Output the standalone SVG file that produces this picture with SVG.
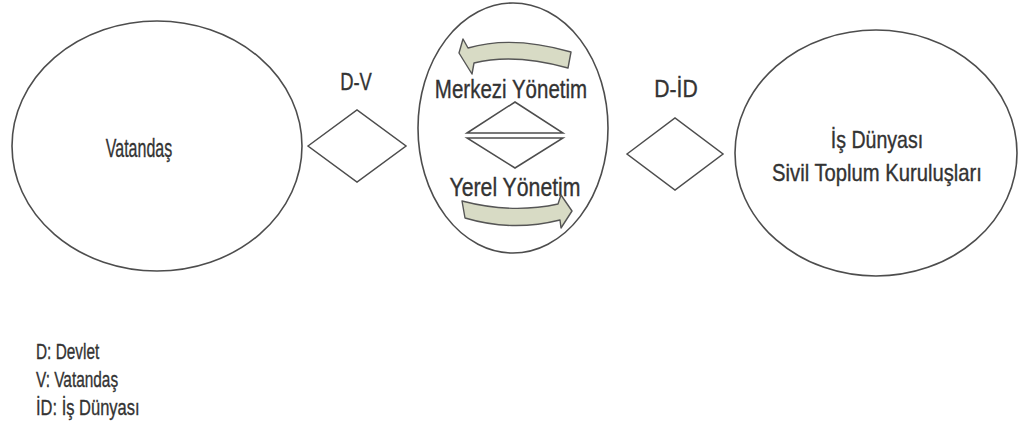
<svg xmlns="http://www.w3.org/2000/svg" width="1019" height="447" viewBox="0 0 1019 447">
<style>
.shape{fill:none;stroke:#4d4d4d;stroke-width:1.6}
.dia{fill:#fff;stroke:#4d4d4d;stroke-width:1.5}
.arrow{fill:#d8dbc5;stroke:#555;stroke-width:1.4;stroke-linejoin:round}
text{font-family:"Liberation Sans",Arial,sans-serif;fill:#333;stroke:#333;stroke-width:0.35;text-anchor:middle}
.leg{text-anchor:start}
</style>
<rect width="1019" height="447" fill="#fff" stroke="none"/>
<g id="vatandas">
<ellipse class="shape" cx="157" cy="146" rx="145" ry="125"/>
<text transform="translate(139,157) scale(0.64,1)" font-size="25">Vatandaş</text>
</g>
<g id="devlet">
<ellipse class="shape" cx="513" cy="128" rx="95" ry="125"/>
<path class="arrow" d="M468,48 Q512,35 571,52 L568,68 Q514,53 474,63 L472,74 L459,53 L463,39 Z"/>
<text transform="translate(511,98) scale(0.82,1)" font-size="25">Merkezi Yönetim</text>
<polygon class="dia" points="467,133 515,102 563,133"/>
<polygon class="dia" points="467,138 563,138 515,168"/>
<text transform="translate(515,196) scale(0.85,1)" font-size="25">Yerel Yönetim</text>
<path class="arrow" d="M462,201 Q512,214 558,204 L561,195 L572,211 L561,228 L560,220 Q512,232 465,218 Z"/>
</g>
<g id="isdunyasi">
<ellipse class="shape" cx="876" cy="153" rx="141" ry="123"/>
<text transform="translate(877,148) scale(0.85,1)" font-size="23">İş Dünyası</text>
<text transform="translate(877,181) scale(0.88,1)" font-size="23">Sivil Toplum Kuruluşları</text>
</g>
<g id="connectors">
<g id="dv">
<polygon class="dia" points="308,146 357,110 406,146 357,182"/>
<text transform="translate(356,90) scale(0.8,1)" font-size="23">D-V</text>
</g>
<g id="did">
<polygon class="dia" points="627,154 675,118 723,154 675,190"/>
<text transform="translate(676,97) scale(0.92,1)" font-size="23">D-İD</text>
</g>
</g>
<g id="legend">
<text class="leg" transform="translate(36,359) scale(0.7,1)" font-size="22">D: Devlet</text>
<text class="leg" transform="translate(36,387) scale(0.7,1)" font-size="22">V: Vatandaş</text>
<text class="leg" transform="translate(36,415) scale(0.75,1)" font-size="22">İD: İş Dünyası</text>
</g>
</svg>
